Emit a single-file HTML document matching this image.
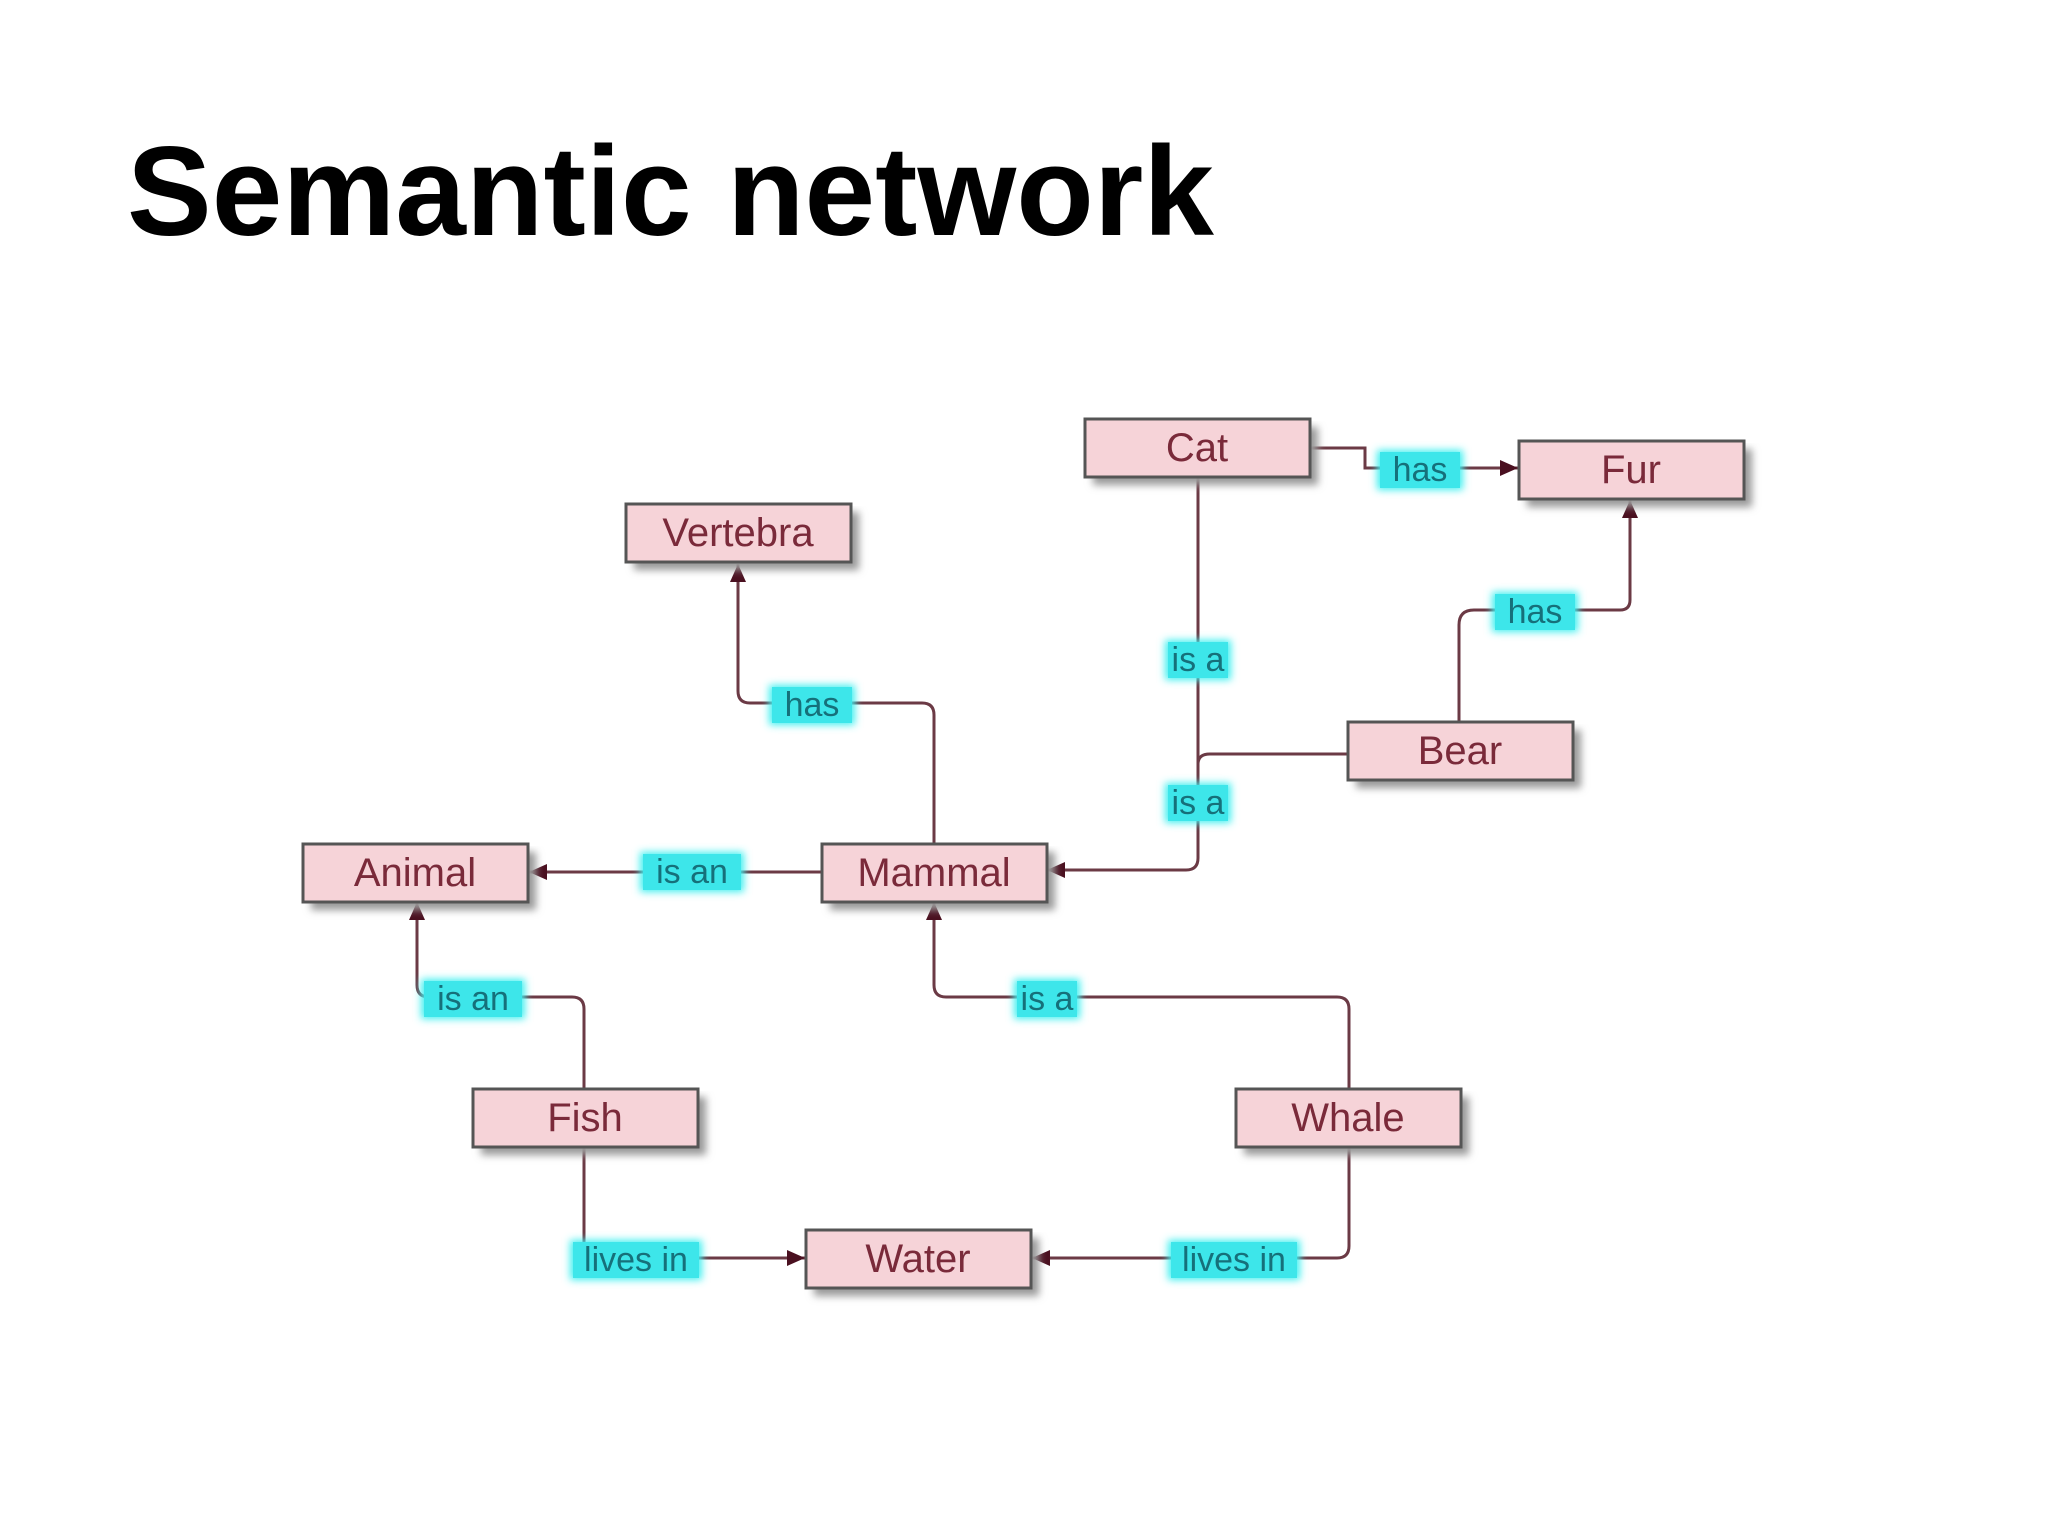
<!DOCTYPE html>
<html><head><meta charset="utf-8"><style>
html,body{margin:0;padding:0;background:#fff;}
svg{display:block;}
</style></head><body>
<svg width="2048" height="1536" viewBox="0 0 2048 1536" xmlns="http://www.w3.org/2000/svg">
<defs>
<marker id="ar" markerWidth="18" markerHeight="16" refX="18" refY="8" orient="auto" markerUnits="userSpaceOnUse" viewBox="0 0 18 16">
<path d="M0,0 L18,8 L0,16 z" fill="#4a1020"/>
</marker>
<filter id="glow" x="-30%" y="-50%" width="160%" height="200%"><feGaussianBlur stdDeviation="4"/></filter>
<filter id="sh" x="-10%" y="-10%" width="130%" height="150%"><feGaussianBlur stdDeviation="4"/></filter>
</defs>
<text x="127" y="235" font-family="Liberation Sans, sans-serif" font-weight="bold" font-size="127" fill="#000">Semantic network</text>

<g fill="none" stroke="#6b3a45" stroke-width="3">
<path d="M1310,448 H1365 V468 H1518" marker-end="url(#ar)"/>
<path d="M1459,722 V625 Q1459,610 1474,610 H1620 Q1630,610 1630,600 V500" marker-end="url(#ar)"/>
<path d="M1198,477 V858 Q1198,870 1186,870 H1047" marker-end="url(#ar)"/>
<path d="M1348,754 H1210 Q1198,754 1198,764"/>
<path d="M934,844 V715 Q934,703 922,703 H750 Q738,703 738,691 V564" marker-end="url(#ar)"/>
<path d="M822,872 H529" marker-end="url(#ar)"/>
<path d="M584,1089 V1009 Q584,997 572,997 H429 Q417,997 417,985 V902" marker-end="url(#ar)"/>
<path d="M1349,1089 V1009 Q1349,997 1337,997 H946 Q934,997 934,985 V902" marker-end="url(#ar)"/>
<path d="M584,1147 V1258 H805" marker-end="url(#ar)"/>
<path d="M1349,1147 V1246 Q1349,1258 1337,1258 H1032" marker-end="url(#ar)"/>
</g>

<g font-family="Liberation Sans, sans-serif" font-size="40" text-anchor="middle">
<g>
<rect x="1093" y="427" width="225" height="58" fill="#999" filter="url(#sh)"/>
<rect x="1085" y="419" width="225" height="58" fill="#f6d3d8" stroke="#555" stroke-width="3"/>
<text x="1197" y="461" fill="#7a2a3a">Cat</text>
</g>
<g>
<rect x="1527" y="449" width="225" height="58" fill="#999" filter="url(#sh)"/>
<rect x="1519" y="441" width="225" height="58" fill="#f6d3d8" stroke="#555" stroke-width="3"/>
<text x="1631" y="483" fill="#7a2a3a">Fur</text>
</g>
<g>
<rect x="634" y="512" width="225" height="58" fill="#999" filter="url(#sh)"/>
<rect x="626" y="504" width="225" height="58" fill="#f6d3d8" stroke="#555" stroke-width="3"/>
<text x="738" y="546" fill="#7a2a3a">Vertebra</text>
</g>
<g>
<rect x="1356" y="730" width="225" height="58" fill="#999" filter="url(#sh)"/>
<rect x="1348" y="722" width="225" height="58" fill="#f6d3d8" stroke="#555" stroke-width="3"/>
<text x="1460" y="764" fill="#7a2a3a">Bear</text>
</g>
<g>
<rect x="311" y="852" width="225" height="58" fill="#999" filter="url(#sh)"/>
<rect x="303" y="844" width="225" height="58" fill="#f6d3d8" stroke="#555" stroke-width="3"/>
<text x="415" y="886" fill="#7a2a3a">Animal</text>
</g>
<g>
<rect x="830" y="852" width="225" height="58" fill="#999" filter="url(#sh)"/>
<rect x="822" y="844" width="225" height="58" fill="#f6d3d8" stroke="#555" stroke-width="3"/>
<text x="934" y="886" fill="#7a2a3a">Mammal</text>
</g>
<g>
<rect x="481" y="1097" width="225" height="58" fill="#999" filter="url(#sh)"/>
<rect x="473" y="1089" width="225" height="58" fill="#f6d3d8" stroke="#555" stroke-width="3"/>
<text x="585" y="1131" fill="#7a2a3a">Fish</text>
</g>
<g>
<rect x="1244" y="1097" width="225" height="58" fill="#999" filter="url(#sh)"/>
<rect x="1236" y="1089" width="225" height="58" fill="#f6d3d8" stroke="#555" stroke-width="3"/>
<text x="1348" y="1131" fill="#7a2a3a">Whale</text>
</g>
<g>
<rect x="814" y="1238" width="225" height="58" fill="#999" filter="url(#sh)"/>
<rect x="806" y="1230" width="225" height="58" fill="#f6d3d8" stroke="#555" stroke-width="3"/>
<text x="918" y="1272" fill="#7a2a3a">Water</text>
</g>
</g>

<g font-family="Liberation Sans, sans-serif" font-size="34" text-anchor="middle">
<g><rect x="1377" y="450" width="86" height="40" fill="#3ff0f0" filter="url(#glow)"/><rect x="1380" y="452" width="80" height="36" fill="#3de6ea"/><text x="1420" y="481" fill="#16707a">has</text></g>
<g><rect x="1492" y="592" width="86" height="40" fill="#3ff0f0" filter="url(#glow)"/><rect x="1495" y="594" width="80" height="36" fill="#3de6ea"/><text x="1535" y="623" fill="#16707a">has</text></g>
<g><rect x="1165" y="640" width="66" height="40" fill="#3ff0f0" filter="url(#glow)"/><rect x="1168" y="642" width="60" height="36" fill="#3de6ea"/><text x="1198" y="671" fill="#16707a">is a</text></g>
<g><rect x="1165" y="783" width="66" height="40" fill="#3ff0f0" filter="url(#glow)"/><rect x="1168" y="785" width="60" height="36" fill="#3de6ea"/><text x="1198" y="814" fill="#16707a">is a</text></g>
<g><rect x="769" y="685" width="86" height="40" fill="#3ff0f0" filter="url(#glow)"/><rect x="772" y="687" width="80" height="36" fill="#3de6ea"/><text x="812" y="716" fill="#16707a">has</text></g>
<g><rect x="640" y="852" width="104" height="40" fill="#3ff0f0" filter="url(#glow)"/><rect x="643" y="854" width="98" height="36" fill="#3de6ea"/><text x="692" y="883" fill="#16707a">is an</text></g>
<g><rect x="421" y="979" width="104" height="40" fill="#3ff0f0" filter="url(#glow)"/><rect x="424" y="981" width="98" height="36" fill="#3de6ea"/><text x="473" y="1010" fill="#16707a">is an</text></g>
<g><rect x="1014" y="979" width="66" height="40" fill="#3ff0f0" filter="url(#glow)"/><rect x="1017" y="981" width="60" height="36" fill="#3de6ea"/><text x="1047" y="1010" fill="#16707a">is a</text></g>
<g><rect x="570" y="1240" width="132" height="40" fill="#3ff0f0" filter="url(#glow)"/><rect x="573" y="1242" width="126" height="36" fill="#3de6ea"/><text x="636" y="1271" fill="#16707a">lives in</text></g>
<g><rect x="1168" y="1240" width="132" height="40" fill="#3ff0f0" filter="url(#glow)"/><rect x="1171" y="1242" width="126" height="36" fill="#3de6ea"/><text x="1234" y="1271" fill="#16707a">lives in</text></g>
</g>
</svg>
</body></html>
